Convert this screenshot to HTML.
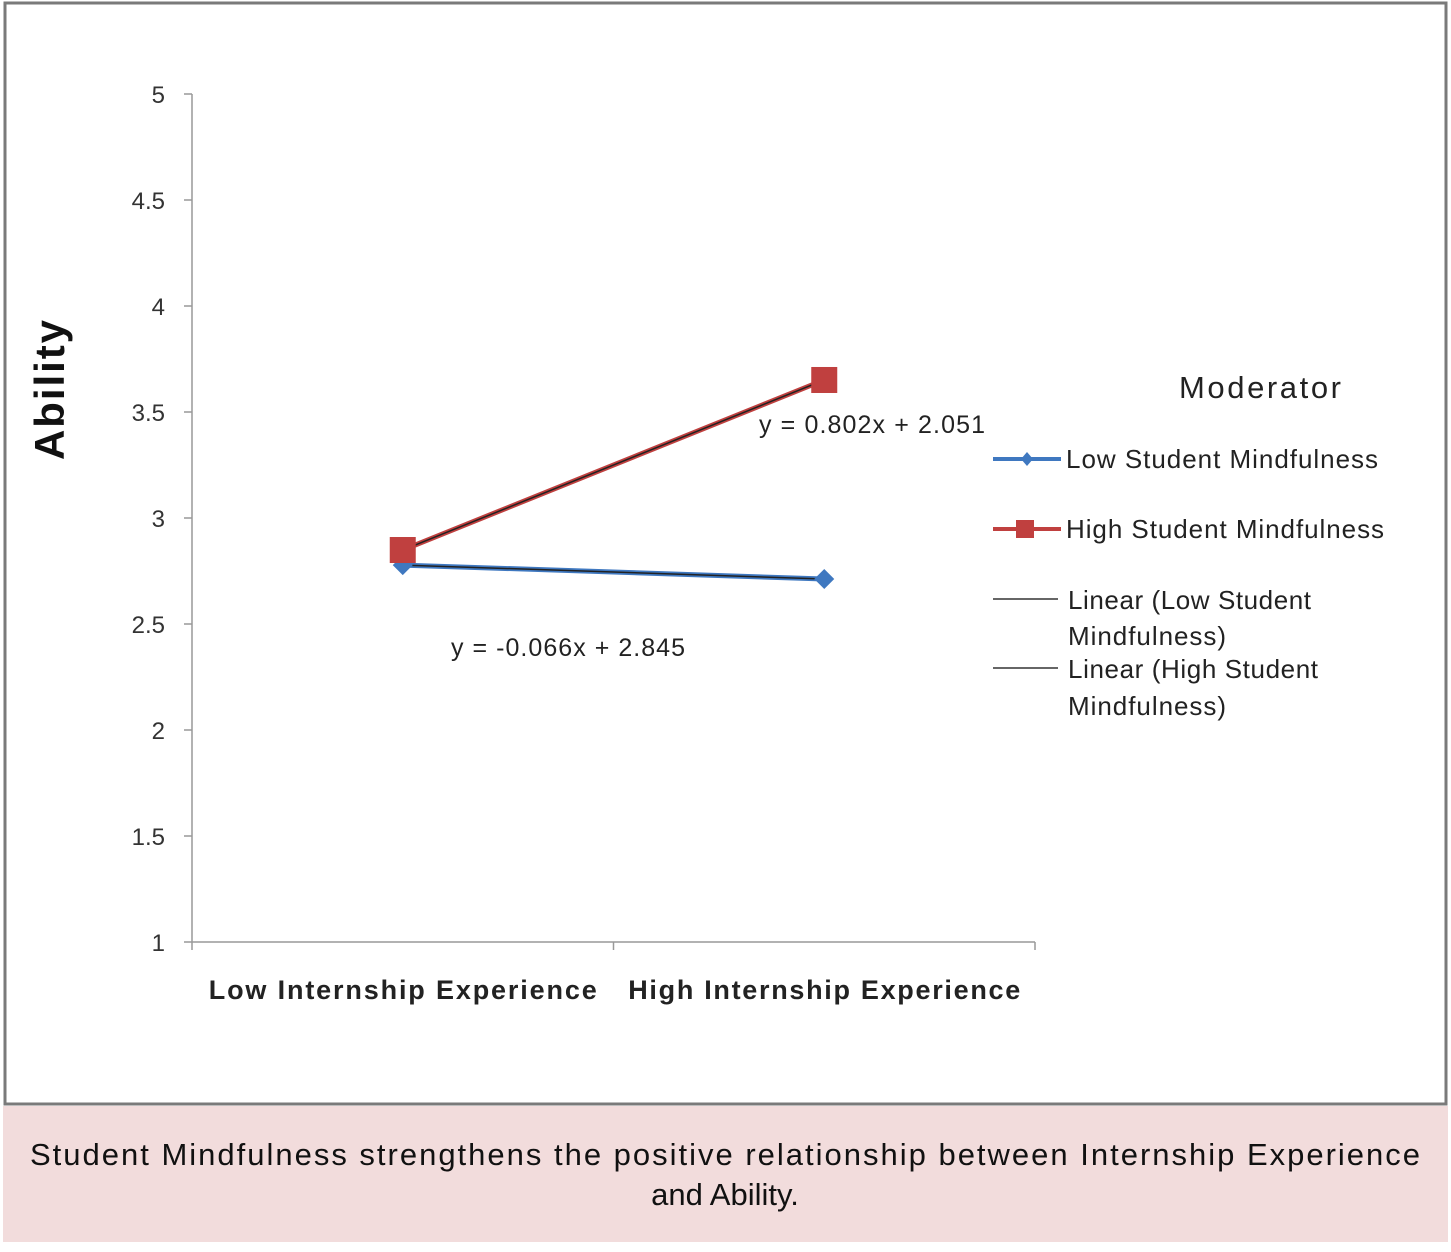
<!DOCTYPE html>
<html><head><meta charset="utf-8"><style>
body{margin:0;width:1451px;height:1247px;background:#fff;overflow:hidden;font-family:"Liberation Sans",sans-serif}
</style></head><body>
<svg width="1451" height="1247" xmlns="http://www.w3.org/2000/svg">
<rect x="5" y="3" width="1441" height="1101" fill="#fff" stroke="#7a7a7a" stroke-width="3"/>
<rect x="3" y="1106" width="1445" height="136" fill="#f2dcdc"/>
<text x="725" y="1165" text-anchor="middle" font-size="31" fill="#111" textLength="1390">Student Mindfulness strengthens the positive relationship between Internship Experience</text>
<text x="725" y="1205" text-anchor="middle" font-size="31" fill="#111">and Ability.</text>
<g id="plot"></g>
<text transform="translate(64,390) rotate(-90)" text-anchor="middle" font-size="42" font-weight="bold" fill="#111" textLength="140">Ability</text>
<text x="1260" y="398" text-anchor="middle" font-size="31" fill="#222" textLength="162">Moderator</text>
<g>
<line x1="993" y1="459" x2="1061" y2="459" stroke="#3f78c0" stroke-width="4"/>
<path d="M1027,452 L1033,459 L1027,466 L1021,459Z" fill="#3f78c0"/>
<text x="1066" y="468" font-size="26" fill="#222" textLength="312">Low Student Mindfulness</text></g>
<g>
<line x1="993" y1="529" x2="1061" y2="529" stroke="#c0403f" stroke-width="4"/>
<rect x="1016" y="520" width="18" height="18" fill="#c0403f"/>
<text x="1066" y="538" font-size="26" fill="#222" textLength="318">High Student Mindfulness</text></g>
<g>
<line x1="993" y1="599" x2="1058" y2="599" stroke="#333" stroke-width="1.5"/>
<text x="1068" y="609" font-size="26" fill="#222" textLength="243">Linear (Low Student</text>
<text x="1068" y="645" font-size="26" fill="#222" textLength="158">Mindfulness)</text></g>
<g>
<line x1="993" y1="668" x2="1058" y2="668" stroke="#333" stroke-width="1.5"/>
<text x="1068" y="678" font-size="26" fill="#222" textLength="250">Linear (High Student</text>
<text x="1068" y="715" font-size="26" fill="#222" textLength="158">Mindfulness)</text></g>
</svg>
<script>
const categories = ["Low Internship Experience", "High Internship Experience"];
const lowSeries = [2.778, 2.712];
const highSeries = [2.849, 3.651];
const yTicks = [1, 1.5, 2, 2.5, 3, 3.5, 4, 4.5, 5];
const eqLow = "y = -0.066x + 2.845";
const eqHigh = "y = 0.802x + 2.051";
const NS = "http://www.w3.org/2000/svg";
const g = document.getElementById('plot');
const X0 = 192, X1 = 1035, Y0 = 942, Y1 = 94;
const yS = v => Y0 - (v - 1) / 4 * (Y0 - Y1);
const bw = (X1 - X0) / categories.length;
const xS = i => X0 + bw * (i + 0.5);
function mk(tag, attrs, text) {
  const e = document.createElementNS(NS, tag);
  for (const k in attrs) e.setAttribute(k, attrs[k]);
  if (text !== undefined) e.textContent = text;
  g.appendChild(e);
  return e;
}
let e;
e = mk('line', {x1: X0, y1: Y1, x2: X0, y2: Y0, stroke: '#999', 'stroke-width': 1.5});


e = mk('line', {x1: X0, y1: Y0, x2: X1, y2: Y0, stroke: '#999', 'stroke-width': 1.5});


yTicks.forEach(t => {
  const y = yS(t);
  e = mk('line', {x1: X0 - 8, y1: y, x2: X0, y2: y, stroke: '#999', 'stroke-width': 1.5});
  
  
  e = mk('text', {x: 165, y: y + 9, 'text-anchor': 'end', 'font-size': 24, fill: '#333'}, String(t));
  
  
});
for (let i = 0; i <= categories.length; i++) {
  e = mk('line', {x1: X0 + bw * i, y1: Y0, x2: X0 + bw * i, y2: Y0 + 8, stroke: '#999', 'stroke-width': 1.5});
  
  
}
categories.forEach((c, i) => {
  e = mk('text', {x: xS(i), y: 999, 'text-anchor': 'middle', 'font-size': 27, 'font-weight': 'bold', fill: '#222', textLength: 388 + i * 4}, c);
  
  
});
function series(vals, color, marker, name) {
  e = mk('polyline', {points: vals.map((v, i) => xS(i) + ',' + yS(v)).join(' '), fill: 'none', stroke: color, 'stroke-width': 5});
  
  
  e = mk('line', {x1: xS(0), y1: yS(vals[0]), x2: xS(1), y2: yS(vals[1]), stroke: '#222', 'stroke-width': 1.5});
  
  
  vals.forEach((v, i) => {
    const x = xS(i), y = yS(v);
    if (marker === 'd') e = mk('path', {d: `M${x},${y-10} L${x+10},${y} L${x},${y+10} L${x-10},${y}Z`, fill: color});
    else e = mk('rect', {x: x - 13, y: y - 13, width: 26, height: 26, fill: color});
    
    
  });
}
series(lowSeries, '#3f78c0', 'd', 'low-mindfulness');
series(highSeries, '#c0403f', 's', 'high-mindfulness');
e = mk('text', {x: 568, y: 656, 'text-anchor': 'middle', 'font-size': 25, fill: '#222', textLength: 234}, eqLow);


e = mk('text', {x: 872, y: 433, 'text-anchor': 'middle', 'font-size': 25, fill: '#222', textLength: 226}, eqHigh);


</script>
</body></html>
